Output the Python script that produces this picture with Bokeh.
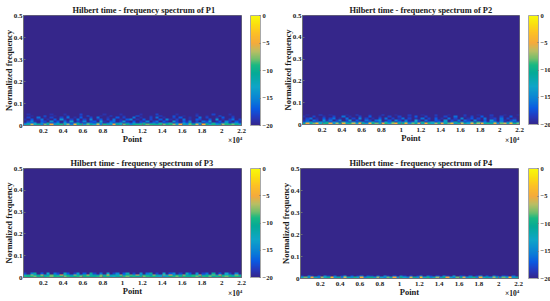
import numpy as np
from bokeh.embed import file_html
from bokeh.layouts import column, row
from bokeh.models import AllLabels, ColorBar, Div, FixedTicker, LinearColorMapper
from bokeh.plotting import figure
from bokeh.resources import INLINE

TITLES = ["Hilbert time - frequency spectrum of P1", "Hilbert time - frequency spectrum of P2",
          "Hilbert time - frequency spectrum of P3", "Hilbert time - frequency spectrum of P4"]
X_TICKS = [2000, 4000, 6000, 8000, 10000, 12000, 14000, 16000, 18000, 20000, 22000]
X_LABELS = ["0.2", "0.4", "0.6", "0.8", "1", "1.2", "1.4", "1.6", "1.8", "2", "2.2"]
Y_TICKS = [0, 0.1, 0.2, 0.3, 0.4, 0.5]
Y_LABELS = ["0", "0.1", "0.2", "0.3", "0.4", "0.5"]
C_TICKS = [0, -5, -10, -15, -20]
POINT_MAX = 22000
FREQ_MAX = 0.5
FLOOR_DB = -20

# Estimated level above the -20 floor; lowest frequency row first, 66 time columns.
P1_LOW = [
 [6,9,14,7,10,5,12,8,15,6,9,11,7,13,5,16,8,10,6,12,9,7,14,5,11,8,6,15,9,7,12,10,5,9,11,11,10,12,11,10,9,11,12,10,11,13,7,15,8,6,12,9,14,5,16,10,7,11,6,9,13,11,11,12,10,7],
 [2,5,3,7,1,5,2,9,2,4,6,1,7,3,2,4,9,2,1,6,4,2,8,4,1,3,7,2,5,8,1,4,2,6,2,4,8,1,3,5,2,7,2,4,8,1,4,2,6,3,10,2,4,7,1,5,2,8,3,2,4,8,1,4,6,2],
 [0,2,5,1,0,3,2,0,6,1,3,0,4,1,7,0,2,1,5,0,2,3,0,7,1,0,3,4,0,2,6,1,0,3,0,2,1,5,0,2,4,0,3,1,0,6,2,0,3,1,5,0,2,0,4,2,7,0,1,3,0,5,2,0,3,1],
 [1,0,3,0,1,4,0,1,0,3,0,6,1,0,2,0,4,0,2,0,5,0,1,3,0,2,0,4,0,1,0,3,5,0,1,0,3,0,2,0,0,3,0,5,1,0,2,0,4,0,1,0,3,2,0,0,3,0,6,0,1,0,2,4,0,2],
 [0,2,0,0,4,0,1,0,2,0,0,2,0,4,0,1,0,3,0,0,2,0,4,0,0,1,0,0,3,0,2,0,0,4,0,1,0,0,2,0,4,0,1,0,0,2,0,3,0,0,1,0,0,4,0,2,0,0,1,0,3,0,0,2,0,0],
 [0,0,1,0,0,0,3,0,0,1,0,0,0,2,0,0,0,1,0,3,0,0,0,1,0,0,2,0,0,0,1,0,0,0,3,0,0,0,1,0,0,2,0,0,0,3,0,0,1,0,0,0,2,0,0,1,0,0,0,3,0,0,0,1,0,0],
 [0,1,0,0,0,0,0,0,1,0,0,0,1,0,0,0,0,2,0,0,0,0,0,0,1,0,0,0,0,1,0,0,0,0,0,1,0,0,0,0,2,0,0,0,0,0,1,0,0,0,0,0,1,0,0,0,0,2,0,0,0,0,1,0,0,0],
]
P2_LOW = [
 [9,15,8,12,16,7,11,10,15,6,13,9,16,8,11,14,7,15,10,6,16,9,12,8,15,11,7,13,16,9,10,15,6,12,9,14,8,16,11,7,13,10,15,8,12,16,6,11,14,9,7,15,10,13,16,8,11,9,15,6,12,14,8,16,10,12],
 [3,5,8,2,4,7,3,9,2,6,4,1,8,4,2,6,2,9,4,1,5,8,2,4,2,7,3,10,1,5,4,8,2,4,6,2,9,1,4,7,2,5,3,8,1,4,10,2,6,2,4,7,1,9,3,5,2,4,8,2,6,1,4,7,2,4],
 [1,3,0,4,2,0,6,1,4,0,2,5,0,2,7,0,3,1,0,4,2,0,4,6,0,1,3,0,5,2,0,4,1,0,7,2,0,4,1,0,3,2,0,6,0,2,1,4,0,4,2,0,5,1,0,3,0,6,2,0,4,1,0,2,4,0],
 [0,2,4,0,1,0,3,0,2,4,0,1,0,4,0,2,0,5,0,2,0,1,0,3,0,4,0,2,0,1,4,0,2,0,1,0,4,0,2,0,3,0,1,0,4,0,2,0,5,0,1,3,0,2,0,4,0,1,2,0,4,0,2,0,1,0],
 [1,0,0,2,0,0,1,0,0,2,0,0,4,0,1,0,0,2,0,0,3,0,0,1,0,0,2,0,0,2,0,0,1,0,3,0,0,2,0,0,1,0,0,2,0,0,4,0,0,1,0,2,0,0,3,0,0,1,0,0,2,0,0,3,0,0],
 [0,1,0,0,0,2,0,0,1,0,0,0,0,1,0,0,2,0,0,0,1,0,0,0,2,0,0,0,1,0,0,0,2,0,0,0,1,0,0,0,2,0,0,0,1,0,0,0,0,2,0,0,0,1,0,0,0,2,0,0,0,1,0,0,0,1],
]
P3_LOW = [
 [11,10,11,12,10,11,9,11,12,10,11,10,12,11,9,10,11,12,10,11,10,9,11,12,10,11,8,7,9,10,11,12,10,11,9,10,12,11,10,11,8,7,6,8,10,11,12,10,11,10,9,11,12,10,11,10,12,9,11,10,11,12,10,9,11,10],
 [7,10,13,6,9,14,8,5,12,9,6,15,7,10,5,13,8,6,11,14,7,9,5,12,8,15,6,10,7,13,5,9,12,7,14,6,10,8,5,13,9,6,12,7,15,5,10,8,13,6,9,11,7,14,5,10,8,12,6,15,9,7,11,5,13,8],
 [2,0,5,9,0,3,0,7,0,4,2,0,8,3,0,2,6,0,3,0,9,2,0,4,0,7,0,2,5,0,3,8,0,2,0,6,0,4,9,0,2,0,7,0,3,5,0,2,0,8,3,0,6,0,2,4,0,9,0,3,0,7,2,0,5,0],
]
P4_LOW = [
 [7,12,6,15,8,5,13,7,10,16,6,9,5,14,8,6,11,7,15,5,9,10,6,13,7,5,12,8,15,6,10,7,5,14,9,6,16,7,11,5,8,13,6,10,15,7,5,12,9,14,6,8,11,5,15,7,9,6,13,8,5,12,7,16,6,9],
 [2,0,5,2,0,3,0,6,2,0,4,0,2,7,0,3,0,2,5,0,3,2,0,4,0,6,2,0,3,0,5,2,0,3,0,2,6,0,4,2,0,3,0,5,2,0,7,0,3,2,0,4,0,2,6,0,3,0,5,2,0,3,2,0,4,0],
]
PANEL_LOW = [P1_LOW, P2_LOW, P3_LOW, P4_LOW]

N_FREQ_ROWS = 64
STOPS_DB = [-20, -18.5, -17, -15.5, -13, -10.5, -9, -8, -6.5, -5, -3, -1.5, 0]
STOPS_RGB = [(53, 38, 138), (36, 58, 190), (10, 90, 225), (10, 125, 215), (15, 165, 200), (5, 170, 150),
             (25, 185, 130), (110, 190, 110), (185, 190, 100), (245, 170, 60), (253, 195, 35), (250, 225, 15), (248, 250, 10)]
grid = np.linspace(-20, 0, 256)
PALETTE = ["#%02x%02x%02x" % tuple(int(round(np.interp(v, STOPS_DB, [c[i] for c in STOPS_RGB]))) for i in range(3)) for v in grid]

FRAMES = [(22, 218, 14, 110), (26, 217, 15, 109), (22, 218, 18, 109), (24, 218, 18, 110)]
BAR_GAP = [9, 9, 9, 10]
TITLE_OFFSET = [49, 47, 47, 49]
HEIGHTS = [150, 150, 151, 151]
EXP_POS = [(228, 136), (505, 136), (228, 289), (505, 289)]
SERIF = "Liberation Serif"
INK = "#1a1a1a"
EDGE = "#6e6e78"

def panel(i):
    left, fw, top, fh = FRAMES[i]
    p = figure(width=275, height=HEIGHTS[i], frame_width=fw, frame_height=fh,
               x_range=(0, POINT_MAX), y_range=(0, FREQ_MAX), toolbar_location=None,
               output_backend="svg", min_border_left=left, min_border_top=top,
               min_border_right=275 - left - fw, min_border_bottom=HEIGHTS[i] - top - fh,
               background_fill_color=PALETTE[0],
               border_fill_color="white", outline_line_color=EDGE, outline_line_width=1)
    matrix = np.full((N_FREQ_ROWS, len(PANEL_LOW[i][0])), float(FLOOR_DB))
    low = np.array(PANEL_LOW[i], dtype=float)
    matrix[:low.shape[0], :] = FLOOR_DB + low
    mapper = LinearColorMapper(palette=PALETTE, low=FLOOR_DB, high=0)
    p.image(image=[matrix], x=0, y=0, dw=POINT_MAX, dh=FREQ_MAX, color_mapper=mapper)
    p.grid.visible = False
    p.title.text = TITLES[i]
    p.title.text_font = SERIF
    p.title.text_font_style = "bold"
    p.title.text_font_size = "8.4px"
    p.title.text_color = INK
    p.title.align = "left"
    p.title.offset = TITLE_OFFSET[i]
    p.title.standoff = 1
    for ax, ticks, labels, name, standoff, tick_gap in ((p.xaxis[0], X_TICKS, X_LABELS, "Point", -2, 3),
                                                        (p.yaxis[0], Y_TICKS, Y_LABELS, "Normalized frequency", -3, 1)):
        ax.ticker = FixedTicker(ticks=ticks)
        ax.major_label_overrides = dict(zip(ticks, labels))
        ax.axis_label = name
        ax.axis_label_text_font = SERIF
        ax.axis_label_text_font_style = "bold"
        ax.axis_label_text_font_size = "8.5px"
        ax.axis_label_text_color = INK
        ax.axis_label_standoff = standoff
        ax.major_label_text_font = SERIF
        ax.major_label_text_font_style = "bold"
        ax.major_label_text_font_size = "7px"
        ax.major_label_text_color = INK
        ax.major_label_standoff = tick_gap
        ax.major_tick_in = 2
        ax.major_tick_out = 0
        ax.minor_tick_line_color = None
        ax.axis_line_color = EDGE
        ax.major_tick_line_color = EDGE
    cb = ColorBar(color_mapper=mapper, ticker=FixedTicker(ticks=C_TICKS), width=10, height=fh, padding=0,
                  margin=0, major_label_text_font=SERIF, major_label_text_font_style="bold",
                  major_label_text_font_size="6.5px", major_label_text_color=INK,
                  major_label_policy=AllLabels(),
                  major_tick_in=1, major_tick_line_color=EDGE, bar_line_color="#a8a8a8",
                  label_standoff=2, location=(fw + BAR_GAP[i], 0), background_fill_alpha=0, border_line_alpha=0)
    p.add_layout(cb)
    return p

def exponent(i):
    x, y = EXP_POS[i]
    return Div(text="\u00d710<sup style='font-size:5px;line-height:0'>4</sup>", width=16, height=9, margin=0,
               styles={"position": "absolute", "left": f"{x}px", "top": f"{y}px", "font-family": SERIF,
                       "font-size": "7.5px", "font-weight": "bold", "color": INK, "line-height": "9px"})

plots = [panel(i) for i in range(4)]
root = column(row(plots[0], plots[1], spacing=0), row(plots[2], plots[3], spacing=0),
              exponent(0), exponent(1), exponent(2), exponent(3), spacing=0,
              styles={"position": "absolute", "left": "0px", "top": "0px"})
open("out.html", "w").write(file_html(root, INLINE))
